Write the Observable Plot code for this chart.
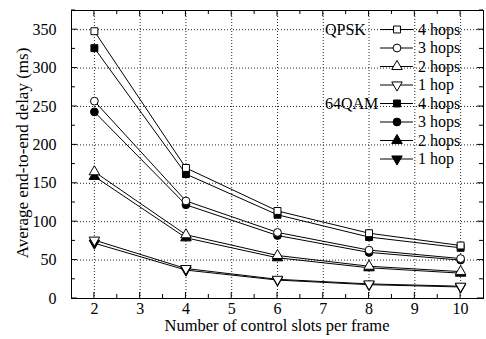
<!DOCTYPE html>
<html>
<head>
<meta charset="utf-8">
<script src="https://cdn.jsdelivr.net/npm/d3@7"></script>
<script src="https://cdn.jsdelivr.net/npm/@observablehq/plot@0.6"></script>
<style>
  html, body { margin: 0; padding: 0; background: #fff; }
  #chart svg text { font-family: 'Liberation Serif', 'Times New Roman', serif !important; font-variant: normal !important; }
</style>
</head>
<body>
<div id="chart"></div>
<script>
// ---- data ----
const slots = [2, 4, 6, 8, 10];
const qpsk4 = [348, 170, 114, 85, 69];
const qpsk3 = [257, 127, 86, 63, 52];
const qpsk2 = [165, 83, 56, 42, 35];
const qpsk1 = [76, 39, 25, 19, 16];
const qam4 = [326, 162, 109, 80, 66];
const qam3 = [243, 122, 82, 60, 50];
const qam2 = [159, 79, 53, 40, 33];
const qam1 = [72, 37, 24, 18, 15];
const xTicks = [2, 3, 4, 5, 6, 7, 8, 9, 10];
const yTicks = [0, 50, 100, 150, 200, 250, 300, 350];
const groupLabels = ["QPSK", "64QAM"];
const hopLabels = ["4 hops", "3 hops", "2 hops", "1 hop"];
const xLabel = "Number of control slots per frame";
const yLabel = "Average end-to-end delay (ms)";

(function () {
const FONT = "'Liberation Serif', 'Times New Roman', serif";
// custom down-triangle symbol
const sqrt3 = Math.sqrt(3);
const triangleDown = {
  draw(context, size) {
    const y = -Math.sqrt(size / (sqrt3 * 3));
    context.moveTo(0, -y * 2);
    context.lineTo(-sqrt3 * y, y);
    context.lineTo(sqrt3 * y, y);
    context.closePath();
  }
};
const shapes = [d3.symbolSquare, d3.symbolCircle, d3.symbolTriangle, triangleDown];

const seriesDefs = [
  {name: "QPSK 4", vals: qpsk4, shape: 0, filled: false},
  {name: "QPSK 3", vals: qpsk3, shape: 1, filled: false},
  {name: "QPSK 2", vals: qpsk2, shape: 2, filled: false},
  {name: "QPSK 1", vals: qpsk1, shape: 3, filled: false},
  {name: "64QAM 4", vals: qam4, shape: 0, filled: true},
  {name: "64QAM 3", vals: qam3, shape: 1, filled: true},
  {name: "64QAM 2", vals: qam2, shape: 2, filled: true},
  {name: "64QAM 1", vals: qam1, shape: 3, filled: true}
];
const rows = seriesDefs.flatMap(s => slots.map((x, i) => ({series: s.name, x, y: s.vals[i], shape: s.shape, filled: s.filled})));

const R = 3.9;
const dotMarks = [];
for (const filled of [true, false]) {
  for (let k = 0; k < 4; k++) {
    dotMarks.push(Plot.dot(rows.filter(d => d.filled === filled && d.shape === k), {
      x: "x", y: "y", r: R, symbol: shapes[k],
      fill: filled ? "#000" : "#fff", stroke: "#000", strokeWidth: 1
    }));
  }
}

const plot = Plot.plot({
  width: 486,
  height: 339,
  marginLeft: 71,
  marginRight: 3,
  marginTop: 10,
  marginBottom: 41,
  style: {fontFamily: FONT, fontSize: "16px", background: "#fff", color: "#000"},
  x: {domain: [1.5, 10.5]},
  y: {domain: [0, 375]},
  marks: [
    Plot.gridX(xTicks, {stroke: "#000", strokeOpacity: 0.85, strokeDasharray: "1,2"}),
    Plot.gridY(yTicks.filter(d => d > 0), {stroke: "#000", strokeOpacity: 0.85, strokeDasharray: "1,2"}),
    Plot.axisX(xTicks, {tickSize: 0, tickPadding: 4, tickFormat: d => d, fontFamily: FONT, fontVariant: "normal", fontSize: 16, label: null}),
    Plot.axisY(yTicks, {tickSize: 0, tickPadding: 15, tickFormat: d => d, fontFamily: FONT, fontVariant: "normal", fontSize: 16, label: null}),
    Plot.line(rows, {x: "x", y: "y", z: "series", stroke: "#000", strokeWidth: 1}),
    ...dotMarks,
    Plot.frame({stroke: "#000", strokeWidth: 1})
  ]
});

document.getElementById("chart").appendChild(plot);

const svg = d3.select(plot);
const xs = plot.scale("x"), ys = plot.scale("y");
const X = v => xs.apply(v), Y = v => ys.apply(v);
const fLeft = 71, fRight = 486 - 3, fTop = 10, fBottom = 339 - 41;

// axis titles
svg.append("text").attr("x", (fLeft + fRight) / 2).attr("y", 330.5)
  .attr("text-anchor", "middle").attr("font-family", FONT).attr("font-size", 16.5).attr("fill", "#000").text(xLabel);
svg.append("text").attr("transform", `translate(28,${(fTop + fBottom) / 2 - 1}) rotate(-90)`)
  .attr("text-anchor", "middle").attr("font-family", FONT).attr("font-size", 17).attr("fill", "#000").text(yLabel);

// inward ticks on all four sides
const g = svg.append("g").attr("stroke", "#000").attr("stroke-width", 1);
const xMinor = d3.range(2.5, 10.5, 1);
const yMinor = d3.range(25, 376, 50);
for (const [v, len] of [...xTicks.map(v => [v, 6]), ...xMinor.map(v => [v, 4])]) {
  const px = X(v);
  g.append("line").attr("x1", px).attr("x2", px).attr("y1", fBottom).attr("y2", fBottom - len);
  g.append("line").attr("x1", px).attr("x2", px).attr("y1", fTop).attr("y2", fTop + len);
}
for (const [v, len] of [...yTicks.map(v => [v, 6]), ...yMinor.map(v => [v, 4])]) {
  const py = Y(v);
  g.append("line").attr("y1", py).attr("y2", py).attr("x1", fLeft).attr("x2", fLeft + len);
  g.append("line").attr("y1", py).attr("y2", py).attr("x1", fRight).attr("x2", fRight - len);
}

// legend
const lg = svg.append("g").attr("font-family", FONT).attr("font-size", 16).attr("text-anchor", "start").attr("fill", "#000");
const rowY = i => 29.5 + i * 18.5;
seriesDefs.forEach((s, i) => {
  const yy = rowY(i);
  lg.append("line").attr("x1", 380).attr("x2", 413).attr("y1", yy).attr("y2", yy).attr("stroke", "#000");
  lg.append("path")
    .attr("transform", `translate(397,${yy})`)
    .attr("d", d3.symbol(shapes[s.shape], Math.PI * R * R)())
    .attr("fill", s.filled ? "#000" : "#fff").attr("stroke", "#000");
  lg.append("text").attr("x", 418).attr("y", yy).attr("dy", "0.32em").text(hopLabels[i % 4]);
});
groupLabels.forEach((t, j) => {
  lg.append("text").attr("x", 325).attr("y", rowY(j * 4)).attr("dy", "0.32em").text(t);
});
})();
</script>
</body>
</html>
